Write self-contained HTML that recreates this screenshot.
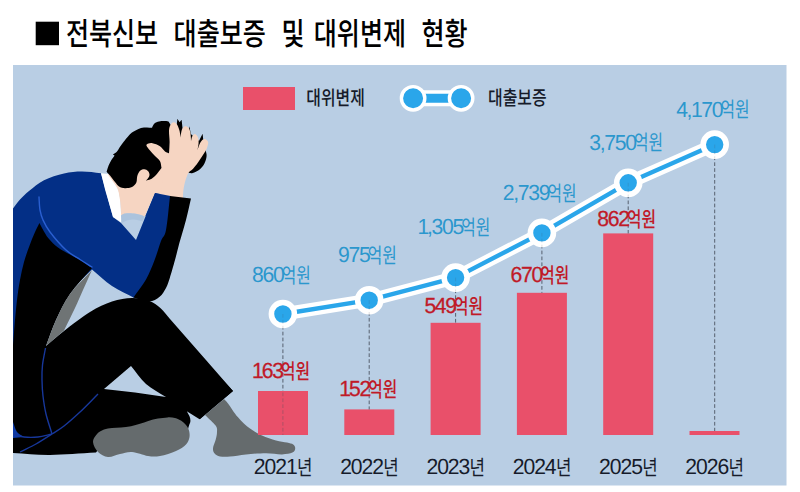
<!DOCTYPE html>
<html lang="ko">
<head>
<meta charset="utf-8">
<title>전북신보 대출보증 및 대위변제 현황</title>
<style>
html,body{margin:0;padding:0;background:#fff}
body{width:800px;height:492px;overflow:hidden;font-family:"Liberation Sans","Noto Sans CJK KR",sans-serif}
svg{display:block}
svg text{font-family:"Liberation Sans","Noto Sans CJK KR",sans-serif;text-rendering:geometricPrecision}
</style>
</head>
<body>
<svg width="800" height="492" viewBox="0 0 800 492" role="img" aria-label="전북신보 대출보증 및 대위변제 현황">
<!-- chart panel background -->
<rect x="13" y="65" width="773.5" height="420.5" fill="#b9cee4"/>
<clipPath id="pc"><rect x="13" y="65" width="773.5" height="420.5"/></clipPath>
<!-- illustration: seated man holding his head -->
<g clip-path="url(#pc)">
<path d="M13 208.6C15.3 205.6 17.3 202.5 20 199.6C22.7 196.7 25 194.2 29 191C33 187.8 38.2 183.1 44 180.2C49.8 177.3 57.7 174.8 64 173.4C70.3 172 75.8 171.6 82 171.6C88.2 171.6 94.7 172.7 101 173.2C105 187.8 109 202.4 113 217C115.7 219 118.3 221 121 223C126 228.7 131 234.3 136 240C142.3 224.3 148.7 208.7 155 193C160.7 194.1 166.3 195.3 172 196.4C170.7 207.6 169.5 222.6 168 230C166.5 237.4 164.9 236 163 241C161.1 246 159.1 253.5 156.6 260C154.1 266.5 151.7 273.7 148 280C144.3 286.3 138.9 292 134.4 298C126.9 294 119.1 290.8 112 286C104.9 281.2 98.7 274.9 92 269.4C81.3 279.6 70.7 289.8 60 300C44.3 316.7 28.7 333.3 13 350C13 302.9 13 255.7 13 208.6Z" fill="#032f86"/>
<path d="M39.4 223C40.5 225 41.1 226.4 42.6 229C44.1 231.6 46 235.5 48.6 238.6C51.2 241.7 54.4 244.9 58 247.6C61.6 250.3 66.3 252.5 70 254.6C73.7 256.7 76.3 257.8 80 260C83.7 262.2 88 265.3 92 268C84.7 276.7 76 285.3 70 294C64 302.7 60 311.3 56 320C52 328.7 49.3 337.3 46 346C52 341 56.7 336.7 64 331C71.3 325.3 82 316.9 90 312C98 307.1 105 303.8 112 301.5C119 299.2 125.8 298.1 132 298C138.2 297.9 144.2 299.1 149 300.8C153.8 302.5 157.1 305.2 160.6 308.2C164.1 311.2 166.9 315.4 170 319C181.4 332 192.8 345 204.2 358C213.8 369 223.4 380 233 391C221.9 400.4 210.7 409.8 199.6 419.2C195.3 416.5 191.1 413.9 186.8 411.2C187.7 413 189 414.9 189.6 416.6C190.2 418.3 190.5 419.6 190.4 421.2C190.3 422.8 189.4 424.2 188.8 426.2C188.2 428.2 187.6 430.7 187 433C174.7 436.7 162.3 440.3 150 444C133.7 444.7 117.3 445.3 101 446C99.3 448.2 97.7 450.4 96 452.6C80.7 453.4 63.8 454.9 50 455C36.2 455.1 25.3 453.7 13 453C13 417 13 381 13 345C13.7 336.7 14.3 327.5 15 320C15.7 312.5 16.2 306.7 17 300C17.8 293.3 18.8 286.3 20 280C21.2 273.7 22.4 267.7 24 262C25.6 256.3 27.6 250.8 29.4 246C31.2 241.2 32.9 236.8 34.6 233C36.3 229.2 37.8 226.3 39.4 223Z" fill="#000"/>
<path d="M13 422C14.3 425.3 15.2 429.5 17 432C18.8 434.5 21.7 435.3 24 437C20.3 437.3 16.7 437.7 13 438C13 432.7 13 427.3 13 422Z" fill="#0d3aa6"/>
<path d="M131 366C136 372 140.2 378.8 146 384C151.8 389.2 159.3 392.7 166 397C155.7 395.5 145.3 393.8 135 392.5C124.7 391.2 114.3 390.2 104 389C113 381.3 122 373.7 131 366Z" fill="#b9cee4"/>
<path d="M92 270C84.7 278 76 285.7 70 294C64 302.3 60 311.3 56 320C52 328.7 49.3 337.3 46 346C52 340.8 58 335.7 64 330.5C67.7 323 71.8 314.8 75 308C78.2 301.2 80.2 296.3 83 290C85.8 283.7 89 276.7 92 270Z" fill="#6f7475"/>
<path d="M39 197C39.3 201.3 39.3 206.2 40 210C40.7 213.8 41.3 216.3 43 220C44.7 223.7 46.2 227 50 232C53.8 237 61 245.4 66 250C71 254.6 75.7 256.7 80 259.5C84.3 262.3 88 264.5 92 267" fill="none" stroke="#2a5fd0" stroke-width="1.4" stroke-linecap="round"/>
<path d="M45.5 348C44.5 353.7 43.1 359.7 42.5 365C41.9 370.3 41.9 374.8 42 380C42.1 385.2 42.3 390.3 43 396C43.7 401.7 44.5 407.7 46 414C47.5 420.3 50 427.3 52 434" fill="none" stroke="#17379a" stroke-width="1.4"/>
<path d="M98 394C92 400 85.7 406.7 80 412C74.3 417.3 68.7 422.3 64 426C59.3 429.7 56.7 431 52 434C47.3 437 41.3 441 36 444C30.7 447 25.3 449.3 20 452" fill="none" stroke="#17379a" stroke-width="1.4"/>
<path d="M13 434C16.7 435 19.8 436.5 24 437C28.2 437.5 33.3 437.5 38 437C42.7 436.5 47.3 435 52 434" fill="none" stroke="#17379a" stroke-width="1.4"/>
<path d="M101 173.2L109 174L114.4 181.6L118.6 190L120.4 200L121.4 222.6L113 217L105.2 190Z" fill="#fff"/>
<path d="M108 174.4C110 177.3 112.3 180.4 114 183C115.7 185.6 117 187.2 118 190C119 192.8 119.5 196.7 120 200C120.5 203.3 120.8 207.4 121 210C121.2 212.6 121 213.7 121 215.6C122 215 122.8 214.2 124 213.8C125.2 213.4 126.3 213.2 128 213.2C129.7 213.2 132 213.3 134 213.6C136 213.9 138.2 214.3 140 214.8C141.8 215.3 143.1 216 144.6 216.6C148.1 208.7 151.5 200.9 155 193C164 194.3 173 195.7 182 197C182.7 189.7 183.3 182.3 184 175C169.3 170 154.7 165 140 160C129.3 164.8 118.7 169.6 108 174.4Z" fill="#f6d5c2"/>
<path d="M121 215.6C122 215 122.8 214.2 124 213.8C125.2 213.4 126.3 213.2 128 213.2C129.7 213.2 132 213.3 134 213.6C136 213.9 138.2 214.3 140 214.8C141.8 215.3 143.1 216 144.6 216.6C143.9 218.1 143.3 219.5 142.6 221C139.7 220.5 136.6 219.5 134 219.4C131.4 219.3 129.1 219.8 127 220.4C124.9 221 123.3 222.1 121.4 223C121.3 220.5 121.1 218.1 121 215.6Z" fill="#a7bfdb" opacity="0.75"/>
<path d="M106.6 171.8C107.3 169.7 107.8 167.6 108.6 165.6C109.4 163.6 110.4 161.6 111.4 160C112.4 158.4 114.2 156.7 114.4 155.8C114.6 154.9 113.3 155 112.8 154.6C113.9 153.9 115.1 153.5 116 152.6C116.9 151.7 117.4 150.8 118.4 149.4C119.4 148 120.1 146.5 122 144C123.9 141.5 127.7 136.5 130 134.2C132.3 131.9 134.2 131.2 136 130.2C137.8 129.2 139.2 128.5 141 128C142.8 127.5 145.2 127.4 147 127.4C148.8 127.4 150.3 127.7 152 127.8C152.8 126.4 153.2 124.6 154.4 123.6C155.6 122.6 157.4 122 159 121.6C160.6 121.2 162.4 121.1 164 121.1C165.6 121.1 167 121.3 168.5 121.4C169.7 123.3 170.8 125.1 172 127C173.5 126.7 175.1 126.3 176.6 126C176.9 123.6 177.1 121.2 177.4 118.8C178.1 119.9 178.9 121.1 179.6 122.2C180.3 121.4 180.9 120.6 181.6 119.8C181.9 122.9 182.3 125.9 182.6 129C184.7 129.3 186.7 129.7 188.8 130C189 128.8 189.2 127.5 189.4 126.3C189.9 128.9 190.3 131.4 190.8 134C193.5 136.3 196.3 138.7 199 141C200.2 138.6 201.4 136.2 202.6 133.8C202.9 136.5 203.2 139.3 203.5 142C204.2 144.7 205 147.7 205.5 150C206 152.3 206.8 153.7 206.6 156C206.4 158.3 205.5 161.7 204.2 164C202.9 166.3 201 168.5 199 170C197 171.5 193.8 172.8 192 173.2C190.2 173.6 189.6 172.8 188.4 172.6C182.3 172.7 176.1 172.9 170 173C167.2 171.3 164.3 169.7 161.5 168C159.5 170.5 157.3 173.6 155.5 175.5C153.7 177.4 152.1 178.5 150.5 179.3C148.9 180.2 147.5 180.2 146 180.6C144.7 181.1 143.3 181.5 142 182C140.5 181 138.9 180 137.4 179C136.9 180.4 136.9 181.9 136 183.2C135.1 184.5 133.8 186.2 132 187C130.2 187.8 127.2 188.3 125 188.2C122.8 188.1 120.7 187.4 119 186.4C117.3 185.4 116.5 183.8 115 182C113.5 180.2 111.4 177.3 110 175.6C108.6 173.9 107.7 173.1 106.6 171.8Z" fill="#000"/>
<path d="M137 188C136.9 185.7 136.7 183.2 136.8 181C136.9 178.8 137 176.7 137.6 175C138.2 173.3 139.3 171.6 140.4 170.6C141.5 169.6 143.1 169.1 144.4 169.2C145.7 169.3 147.2 170.1 148 171C148.8 171.9 149.4 173.3 149.5 174.4C149.6 175.5 149 176.8 148.4 177.8C147.8 178.8 146.8 179.7 146 180.6C146.3 183.1 146.7 185.5 147 188C143.7 188 140.3 188 137 188Z" fill="#f6d5c2"/>
<path d="M169 153.2C169.2 149.5 169.6 145.7 169.6 142C169.6 138.3 168.9 133.8 169 131C169.1 128.2 169.6 126.5 170.4 125C171.2 123.5 172.5 122.3 173.6 122.2C174.7 122.1 176 122.9 177 124.4C178 125.9 179 128.8 179.6 131C180.2 133.2 180.2 135.3 180.5 137.4C180.8 135.3 181.1 132.7 181.5 131C181.9 129.3 182.4 128.2 183.2 127.4C183.9 126.6 185 126 186 126.2C187 126.4 188.2 127.3 189 128.6C189.8 129.9 190.3 131.9 190.6 134C190.9 136.1 190.9 138.7 191 141C191.4 139.5 191.5 137.6 192.2 136.4C192.9 135.2 194 133.8 195 134C196 134.2 197.4 135.9 198 137.4C198.6 138.9 198.7 140.9 198.6 143C198.5 145.1 197.9 147.7 197.5 150C198.3 147.7 199.1 144.9 200 143.2C200.9 141.5 202 140.2 203 139.6C204 139 205.1 138.9 206 139.4C206.9 139.9 208.1 141 208.2 142.6C208.3 144.2 207.4 147.1 206.6 149C205.8 150.9 204.7 152.3 203.6 154C202.5 155.7 201.2 157.7 200 159.4C198.8 161.1 197.9 162.7 196.6 164.4C195.3 166.1 193.3 168.4 192 169.8C190.7 171.2 189.7 170.8 188.5 172.8C187.3 174.8 185.9 178.8 185 182C184.1 185.2 183.5 189.2 183.2 192C182.9 194.8 183.1 196.7 183 199C174.7 199 166.3 199 158 199C159.7 192.7 162.4 185.2 163 180C163.6 174.8 162 172 161.5 168C161 165.7 161.1 163.2 160 161.2C158.9 159.2 156.7 157.8 155 156C153.3 154.2 151.4 152.3 150 150.6C148.6 148.9 146.7 146.8 146.4 145.6C146.2 144.4 147.5 144 148.5 143.6C149.5 143.2 150.6 142.8 152.5 143.2C154.4 143.6 157.9 144.8 160 146.2C162.1 147.6 163.5 150.2 165 151.4C166.5 152.6 167.7 152.6 169 153.2Z" fill="#f6d5c2"/>
<path d="M155 193L170.5 196L169 216L145.5 216Z" fill="#032f86"/>
<path d="M170 196C177 196.8 184 197.7 191 198.5C189.3 205.7 188.1 212.1 186 220C183.9 227.9 180.4 239.3 178.6 246C176.8 252.7 176.5 254.7 175 260C173.5 265.3 171.3 273.3 169.8 278C168.3 282.7 167.7 284.9 166 288C164.3 291.1 162.4 294.5 159.6 296.8C156.8 299.1 153.4 301.5 149 301.6C144.6 301.7 138.6 298.8 133.4 297.4C137.6 291.5 142.5 285.8 146 279.6C149.5 273.4 152.1 266.4 154.6 260C157.1 253.6 159.1 246 161 241C162.9 236 164.5 237.5 166 230C167.5 222.5 168.7 207.3 170 196Z" fill="#000"/>
<path d="M93 442C92.8 439.1 94.8 436.5 96.6 434.4C98.4 432.3 101.4 430.7 104 429.6C106.6 428.5 109.2 428.4 112 428C114.8 427.6 117.8 427.7 121 427.4C124.2 427.1 127.8 426.8 131 426.2C134.2 425.6 137.1 424.7 140 423.8C142.9 422.9 145.3 421.9 148.3 421C151.3 420.1 154.8 419.2 158 418.6C161.2 418 164.7 417.5 167.5 417.4C170.3 417.3 172.7 417.4 175 418C177.3 418.6 179.5 419.6 181.3 420.8C183.1 422 184.7 423.4 186 425C187.3 426.6 188.4 428.3 189 430.4C189.6 432.5 189.9 435.3 189.4 437.6C188.9 439.9 188.2 442.2 186 444.4C183.8 446.6 180.3 449.1 176 451C171.7 452.9 164.7 455.2 160 456C155.3 456.8 152.7 456.7 148 456C143.3 455.3 136.7 452.3 132 452C127.3 451.7 124 453.2 120 454C116 454.8 111.7 457.3 108 457C104.3 456.7 100.5 454.5 98 452C95.5 449.5 93.2 444.9 93 442Z" fill="#656b6d"/>
<path d="M205 415C211.3 409.7 217.7 404.3 224 399C225.3 400.5 225.7 400.4 228 403.4C230.3 406.4 234.3 413 238 417.2C241.7 421.4 246 425.6 250 428.6C254 431.6 257.7 433.4 262 435.4C266.3 437.4 271.8 439.2 276 440.4C280.2 441.6 284.1 441.9 287 442.6C289.9 443.3 291.8 443.6 293.2 444.6C294.6 445.6 295.3 447.1 295.2 448.4C295.1 449.7 294.6 451.6 292.4 452.6C290.2 453.6 286.4 454.3 282 454.4C277.6 454.5 272 453.2 266 453.2C260 453.2 252 453.8 246 454.4C240 455 234.3 456.3 230 456.6C225.7 456.9 222.6 456.9 220 456.4C217.4 455.9 215.8 454.8 214.6 453.4C213.4 452 212.8 450.4 213 448.2C213.2 446 214.9 442.7 215.6 440C216.3 437.3 217 434.4 217 432C217 429.6 217.6 428.4 215.6 425.6C213.6 422.8 208.5 418.5 205 415Z" fill="#656b6d"/>
<path d="M233 391L200 419L185 400L215 372Z" fill="#000"/>
</g>
<!-- bars, guide lines, line series -->
<rect x="258" y="391" width="50" height="44" fill="#e9506a"/>
<rect x="344.3" y="409.4" width="50" height="25.6" fill="#e9506a"/>
<rect x="430.6" y="322.8" width="50" height="112.2" fill="#e9506a"/>
<rect x="516.9" y="292.8" width="50" height="142.2" fill="#e9506a"/>
<rect x="603.2" y="233.4" width="50" height="201.6" fill="#e9506a"/>
<rect x="689.5" y="431" width="50" height="4" fill="#e9506a"/>
<line x1="282.9" y1="314" x2="282.9" y2="391" stroke="#444b5a" stroke-width="0.85" stroke-dasharray="3.7 2.2"/>
<line x1="369.2" y1="300.2" x2="369.2" y2="409.4" stroke="#444b5a" stroke-width="0.85" stroke-dasharray="3.7 2.2"/>
<line x1="455.6" y1="277.6" x2="455.6" y2="322.8" stroke="#444b5a" stroke-width="0.85" stroke-dasharray="3.7 2.2"/>
<line x1="541.9" y1="232.9" x2="541.9" y2="292.8" stroke="#444b5a" stroke-width="0.85" stroke-dasharray="3.7 2.2"/>
<line x1="628.2" y1="182.8" x2="628.2" y2="233.4" stroke="#444b5a" stroke-width="0.85" stroke-dasharray="3.7 2.2"/>
<line x1="714.7" y1="144.6" x2="714.7" y2="431" stroke="#444b5a" stroke-width="0.85" stroke-dasharray="3.7 2.2"/>
<line x1="282.9" y1="392.5" x2="282.9" y2="435" stroke="#444b5a" stroke-width="0.85" stroke-dasharray="3.7 2.2" opacity="0.4"/>
<path d="M282.9 314L369.2 300.2L455.6 277.6L541.9 232.9L628.2 182.8L714.7 144.6" fill="none" stroke="#fff" stroke-width="13" stroke-linejoin="round"/>
<path d="M282.9 314L369.2 300.2L455.6 277.6L541.9 232.9L628.2 182.8L714.7 144.6" fill="none" stroke="#2aa6ea" stroke-width="4.4" stroke-linejoin="round"/>
<circle cx="282.9" cy="314" r="11.5" fill="#2aa6ea" stroke="#fff" stroke-width="5.6"/>
<line x1="282.9" y1="314" x2="282.9" y2="328" stroke="#444b5a" stroke-width="0.85" stroke-dasharray="3.7 2.2" opacity="0.2"/>
<circle cx="369.2" cy="300.2" r="11.5" fill="#2aa6ea" stroke="#fff" stroke-width="5.6"/>
<line x1="369.2" y1="300.2" x2="369.2" y2="314.2" stroke="#444b5a" stroke-width="0.85" stroke-dasharray="3.7 2.2" opacity="0.2"/>
<circle cx="455.6" cy="277.6" r="11.5" fill="#2aa6ea" stroke="#fff" stroke-width="5.6"/>
<line x1="455.6" y1="277.6" x2="455.6" y2="291.6" stroke="#444b5a" stroke-width="0.85" stroke-dasharray="3.7 2.2" opacity="0.2"/>
<circle cx="541.9" cy="232.9" r="11.5" fill="#2aa6ea" stroke="#fff" stroke-width="5.6"/>
<line x1="541.9" y1="232.9" x2="541.9" y2="246.9" stroke="#444b5a" stroke-width="0.85" stroke-dasharray="3.7 2.2" opacity="0.2"/>
<circle cx="628.2" cy="182.8" r="11.5" fill="#2aa6ea" stroke="#fff" stroke-width="5.6"/>
<line x1="628.2" y1="182.8" x2="628.2" y2="196.8" stroke="#444b5a" stroke-width="0.85" stroke-dasharray="3.7 2.2" opacity="0.2"/>
<circle cx="714.7" cy="144.6" r="11.5" fill="#2aa6ea" stroke="#fff" stroke-width="5.6"/>
<line x1="714.7" y1="144.6" x2="714.7" y2="158.6" stroke="#444b5a" stroke-width="0.85" stroke-dasharray="3.7 2.2" opacity="0.2"/>
<!-- legend -->
<rect x="243" y="87" width="52" height="23" fill="#e9506a"/>
<path d="M413 98.3H461" stroke="#fff" stroke-width="16"/>
<path d="M413 98.3H461" stroke="#2aa6ea" stroke-width="9"/>
<circle cx="413.1" cy="98.3" r="11.7" fill="#2aa6ea" stroke="#fff" stroke-width="3.4"/>
<circle cx="461.1" cy="98.3" r="11.7" fill="#2aa6ea" stroke="#fff" stroke-width="3.4"/>
<g fill="#161b2a" aria-label="대위변제">
<text transform="translate(306.3 105.3) scale(0.795 1)" x="0" y="0" font-size="20" font-weight="500">대위변제</text>
</g>
<g fill="#161b2a" aria-label="대출보증">
<text transform="translate(488 105.3) scale(0.795 1)" x="0" y="0" font-size="20" font-weight="500">대출보증</text>
</g>
<!-- title -->
<rect x="35.7" y="21.7" width="23.3" height="23.5" fill="#000"/>
<g fill="#000" aria-label="전북신보 대출보증 및 대위변제 현황">
<text transform="translate(65.9 45) scale(0.804 1)" x="0" y="0" font-size="31.2" font-weight="500">전북신보</text>
<text transform="translate(173.6 45) scale(0.804 1)" x="0" y="0" font-size="31.2" font-weight="500">대출보증</text>
<text transform="translate(281.4 45) scale(0.804 1)" x="0" y="0" font-size="31.2" font-weight="500">및</text>
<text transform="translate(313.8 45) scale(0.804 1)" x="0" y="0" font-size="31.2" font-weight="500">대위변제</text>
<text transform="translate(421.5 45) scale(0.804 1)" x="0" y="0" font-size="31.2" font-weight="500">현황</text>
</g>
<!-- value labels -->
<g fill="#2b97cd" aria-label="860억원">
<text transform="scale(0.97 1)" x="259.8 270.6 281.4" y="281.6" font-size="21.8">860</text>
<text transform="translate(281.8 282.5) scale(0.74 1)" x="0" y="0" font-size="21.3">억원</text>
</g>
<g fill="#2b97cd" aria-label="975억원">
<text transform="scale(0.97 1)" x="348.4 359.2 370" y="261.6" font-size="21.8">975</text>
<text transform="translate(367.7 262.5) scale(0.74 1)" x="0" y="0" font-size="21.3">억원</text>
</g>
<g fill="#2b97cd" aria-label="1,305억원">
<text transform="scale(0.97 1)" x="430.3 440.1 444.8 455.6 466.5" y="234.1" font-size="21.8">1,305</text>
<text transform="translate(461.2 235) scale(0.74 1)" x="0" y="0" font-size="21.3">억원</text>
</g>
<g fill="#2b97cd" aria-label="2,739억원">
<text transform="scale(0.97 1)" x="518.3 529 533.7 544.5 555.4" y="199.6" font-size="21.8">2,739</text>
<text transform="translate(547.5 200.5) scale(0.74 1)" x="0" y="0" font-size="21.3">억원</text>
</g>
<g fill="#2b97cd" aria-label="3,750억원">
<text transform="scale(0.97 1)" x="607.6 618.4 623 633.9 644.7" y="149.5" font-size="21.8">3,750</text>
<text transform="translate(634.1 150.4) scale(0.74 1)" x="0" y="0" font-size="21.3">억원</text>
</g>
<g fill="#2b97cd" aria-label="4,170억원">
<text transform="scale(0.97 1)" x="697.1 707.8 712.3 722.9 733.7" y="116.5" font-size="21.8">4,170</text>
<text transform="translate(720.4 117.4) scale(0.74 1)" x="0" y="0" font-size="21.3">억원</text>
</g>
<g fill="#c01a28" aria-label="163억원">
<text transform="scale(0.97 1)" x="259.9 269.8 280.6" y="378.4" font-size="21.8" stroke="#c01a28" stroke-width="0.3">163</text>
<text transform="translate(281 379.3) scale(0.74 1)" x="0" y="0" font-size="21.3" font-weight="500">억원</text>
</g>
<g fill="#c01a28" aria-label="152억원">
<text transform="scale(0.97 1)" x="349.8 359.7 370.5" y="395.6" font-size="21.8" stroke="#c01a28" stroke-width="0.3">152</text>
<text transform="translate(368.2 396.5) scale(0.74 1)" x="0" y="0" font-size="21.3" font-weight="500">억원</text>
</g>
<g fill="#c01a28" aria-label="549억원">
<text transform="scale(0.97 1)" x="437.5 448.3 459.1" y="313.4" font-size="21.8" stroke="#c01a28" stroke-width="0.3">549</text>
<text transform="translate(454.1 314.3) scale(0.74 1)" x="0" y="0" font-size="21.3" font-weight="500">억원</text>
</g>
<g fill="#c01a28" aria-label="670억원">
<text transform="scale(0.97 1)" x="526.2 537 547.9" y="282" font-size="21.8" stroke="#c01a28" stroke-width="0.3">670</text>
<text transform="translate(540.2 282.9) scale(0.74 1)" x="0" y="0" font-size="21.3" font-weight="500">억원</text>
</g>
<g fill="#c01a28" aria-label="862억원">
<text transform="scale(0.97 1)" x="615.7 626.5 637.3" y="225.9" font-size="21.8" stroke="#c01a28" stroke-width="0.3">862</text>
<text transform="translate(627 226.8) scale(0.74 1)" x="0" y="0" font-size="21.3" font-weight="500">억원</text>
</g>
<!-- x-axis year labels -->
<g fill="#161b2a" aria-label="2021년">
<text transform="scale(0.97 1)" x="261.7 272.7 283.8 294.8" y="473.8" font-size="21.8">2021</text>
<text transform="translate(297 474.7) scale(0.8 1)" x="0" y="0" font-size="21">년</text>
</g>
<g fill="#161b2a" aria-label="2022년">
<text transform="scale(0.97 1)" x="350.7 361.7 372.7 383.8" y="473.8" font-size="21.8">2022</text>
<text transform="translate(383.3 474.7) scale(0.8 1)" x="0" y="0" font-size="21">년</text>
</g>
<g fill="#161b2a" aria-label="2023년">
<text transform="scale(0.97 1)" x="439.6 450.7 461.7 472.7" y="473.8" font-size="21.8">2023</text>
<text transform="translate(469.6 474.7) scale(0.8 1)" x="0" y="0" font-size="21">년</text>
</g>
<g fill="#161b2a" aria-label="2024년">
<text transform="scale(0.97 1)" x="528.6 539.6 550.7 561.7" y="473.8" font-size="21.8">2024</text>
<text transform="translate(555.9 474.7) scale(0.8 1)" x="0" y="0" font-size="21">년</text>
</g>
<g fill="#161b2a" aria-label="2025년">
<text transform="scale(0.97 1)" x="617.6 628.6 639.6 650.7" y="473.8" font-size="21.8">2025</text>
<text transform="translate(642.2 474.7) scale(0.8 1)" x="0" y="0" font-size="21">년</text>
</g>
<g fill="#161b2a" aria-label="2026년">
<text transform="scale(0.97 1)" x="706.5 717.6 728.6 739.7" y="473.8" font-size="21.8">2026</text>
<text transform="translate(728.5 474.7) scale(0.8 1)" x="0" y="0" font-size="21">년</text>
</g>
</svg>
</body>
</html>
